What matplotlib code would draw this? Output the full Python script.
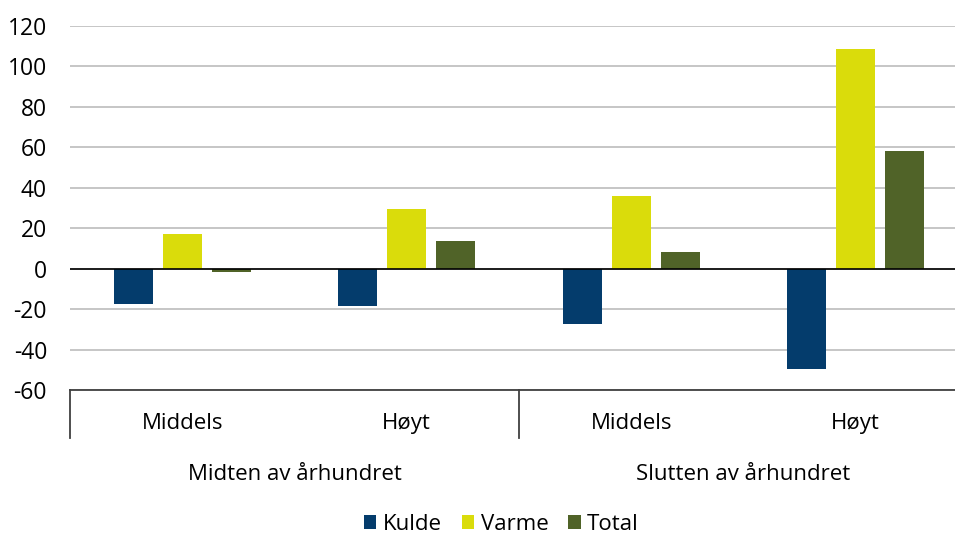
import numpy as np
import matplotlib
matplotlib.use('Agg')
import matplotlib.pyplot as plt
from matplotlib.lines import Line2D
import matplotlib.transforms as mtransforms

plt.rcParams['font.family'] = ['Open Sans', 'DejaVu Sans']
plt.rcParams['axes.unicode_minus'] = False

# data
categories = ['Middels', 'Høyt', 'Middels', 'Høyt']
groups = ['Midten av århundret', 'Slutten av århundret']
series = ['Kulde', 'Varme', 'Total']
kulde = [-17.4, -18.6, -27.2, -49.5]
varme = [17.3, 29.7, 36.0, 108.6]
total = [-1.5, 13.6, 8.4, 58.4]
colors = ['#043c6c', '#dadc0b', '#506328']

fig = plt.figure(figsize=(9.55, 5.34), dpi=100)
ax = fig.add_axes([70/955, 144/534, 898/955, 364/534])

x = np.arange(len(categories))
step, width = 0.218, 0.175
for i, (name, vals, c) in enumerate(zip(series, [kulde, varme, total], colors)):
    ax.bar(x + (i - 1) * step, vals, width, color=c, label=name, zorder=3)

ax.set_xlim(-0.5, 3.5)
ax.set_ylim(-60, 120)
ax.set_yticks(np.arange(-60, 121, 20))
ax.tick_params(axis='y', length=0, labelsize=16.5, pad=16.5)
ax.set_xticks([])
ax.grid(axis='y', color='#c6c6c6', linewidth=1.4, zorder=0)
ax.axhline(0, color='black', linewidth=1.2, zorder=4)
for s in ['top', 'right', 'left']:
    ax.spines[s].set_visible(False)
ax.spines['bottom'].set_color('#404040')
ax.spines['bottom'].set_linewidth(1.3)

tr = mtransforms.blended_transform_factory(ax.transData, ax.transAxes)
for xi, lab in zip(x, categories):
    ax.text(xi, -0.093, lab, transform=tr, ha='center', va='center', fontsize=16)
for gi, g in enumerate(groups):
    ax.text(gi * 2 + 0.5, -0.233, g, transform=tr, ha='center', va='center', fontsize=16)
for xd in [-0.5, 1.5, 3.5]:
    ax.add_line(Line2D([xd, xd], [0, -0.132], transform=tr, color='#404040',
                       linewidth=1.3, clip_on=False))

fig.legend(loc='center', bbox_to_anchor=(0.525, 0.018), ncol=3, frameon=False,
           fontsize=16, handlelength=0.55, handleheight=0.55, handletextpad=0.3,
           columnspacing=0.9)

fig.savefig('out.png', dpi=100)
